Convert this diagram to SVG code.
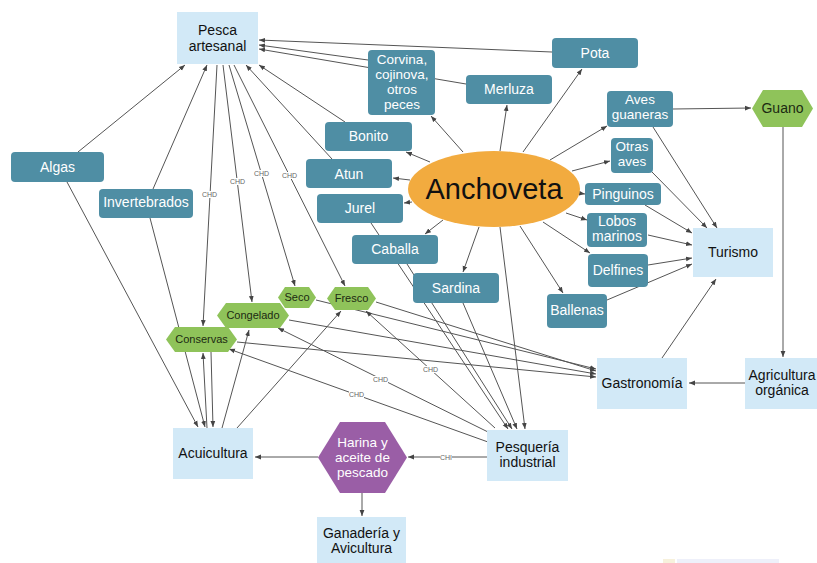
<svg xmlns="http://www.w3.org/2000/svg" width="817" height="563" viewBox="0 0 817 563">
<style>
text{font-family:"Liberation Sans",Arial,Helvetica,sans-serif;text-anchor:middle}
.lb{fill:#d2e9f7}
.tl{fill:#4f8ea4}
.gr{fill:#8fc35a}
.tw{fill:#ffffff;font-size:14px}
.tb{fill:#111111;font-size:14px}
.tg{fill:#1c2a12;font-size:11px}
.e path{fill:none;stroke:#555;stroke-width:1;marker-end:url(#a)}
.lab rect{fill:#ffffff}
.lab text{fill:#666;font-size:7px}
</style>
<defs>
<marker id="a" viewBox="0 0 10 10" refX="10" refY="5" markerWidth="6" markerHeight="6" orient="auto" markerUnits="userSpaceOnUse"><path d="M0,1 L10,5 L0,9 z" fill="#444"/></marker>
</defs>
<rect width="817" height="563" fill="#ffffff"/>
<g id="connectors" class="e">
<path d="M552,52 L259,40"/>
<path d="M368,60 L259,45"/>
<path d="M466,84 L259,49"/>
<path d="M345,122 L259,65"/>
<path d="M332,159 L246,65"/>
<path d="M78,152 L185,65"/>
<path d="M153,189 L207,65"/>
<path d="M217,65 L203,326"/>
<path d="M223,65 L252,302"/>
<path d="M229,65 L295,286"/>
<path d="M234,65 L345,286"/>
<path d="M316,300 L596,369"/>
<path d="M376,302 L596,371"/>
<path d="M289,320 L596,374"/>
<path d="M237,342 L596,377"/>
<path d="M495,428 L366,311"/>
<path d="M488,432 L278,328"/>
<path d="M488,442 L229,349"/>
<path d="M487,457 L408,457"/>
<path d="M463,152 L431,116"/>
<path d="M500,151 L507,105"/>
<path d="M523,152 L582,69"/>
<path d="M550,160 L607,126"/>
<path d="M572,171 L610,161"/>
<path d="M577,193 L585,194"/>
<path d="M566,213 L587,220"/>
<path d="M543,222 L590,253"/>
<path d="M520,226 L563,293"/>
<path d="M479,227 L463,272"/>
<path d="M443,220 L425,234"/>
<path d="M412,202 L404,203"/>
<path d="M410,180 L393,178"/>
<path d="M430,162 L406,152"/>
<path d="M500,227 L525,429"/>
<path d="M371,223 L508,429"/>
<path d="M407,264 L512,429"/>
<path d="M463,303 L517,429"/>
<path d="M653,127 L717,228"/>
<path d="M652,172 L707,228"/>
<path d="M645,205 L692,233"/>
<path d="M648,235 L692,245"/>
<path d="M648,265 L692,258"/>
<path d="M607,300 L692,264"/>
<path d="M662,358 L716,279"/>
<path d="M673,109 L751,108"/>
<path d="M783,127 L783,357"/>
<path d="M745,383 L689,383"/>
<path d="M318,457 L255,457"/>
<path d="M362,493 L362,516"/>
<path d="M67,182 L198,427"/>
<path d="M150,218 L205,427"/>
<path d="M211,352 L213,427"/>
<path d="M207,428 L203,353"/>
<path d="M222,428 L249,330"/>
<path d="M237,428 L341,311"/>
</g>
<g id="edge-labels" class="lab">
<rect x="202" y="191" width="15" height="7"/><text x="209.5" y="197">CHD</text>
<rect x="230" y="178" width="15" height="7"/><text x="237.5" y="184">CHD</text>
<rect x="254" y="170" width="15" height="7"/><text x="261.5" y="176">CHD</text>
<rect x="282" y="172" width="15" height="7"/><text x="289.5" y="178">CHD</text>
<rect x="423" y="366" width="15" height="7"/><text x="430.5" y="372">CHD</text>
<rect x="373" y="376" width="15" height="7"/><text x="380.5" y="382">CHD</text>
<rect x="349" y="391" width="15" height="7"/><text x="356.5" y="397">CHD</text>
<rect x="440" y="454" width="12" height="7"/><text x="446" y="460">CHI</text>
</g>
<g id="pesca-artesanal"><rect class="lb" x="177" y="12" width="81" height="52"/><text class="tb" x="217.5" y="35">Pesca</text><text class="tb" x="217.5" y="51">artesanal</text></g>
<g id="turismo"><rect class="lb" x="693" y="228" width="80" height="49"/><text class="tb" x="733" y="257">Turismo</text></g>
<g id="gastronomia"><rect class="lb" x="597" y="358" width="90" height="51"/><text class="tb" x="642" y="388">Gastronomía</text></g>
<g id="agricultura"><rect class="lb" x="745" y="358" width="80" height="51"/><text class="tb" x="782" y="380">Agricultura</text><text class="tb" x="782" y="395">orgánica</text></g>
<g id="pesqueria"><rect class="lb" x="487" y="430" width="81" height="51"/><text class="tb" x="527.5" y="452">Pesquería</text><text class="tb" x="527.5" y="467">industrial</text></g>
<g id="acuicultura"><rect class="lb" x="173" y="428" width="80" height="51"/><text class="tb" x="213" y="458">Acuicultura</text></g>
<g id="ganaderia"><rect class="lb" x="317" y="517" width="89" height="50"/><text class="tb" x="361.5" y="538">Ganadería y</text><text class="tb" x="361.5" y="553">Avicultura</text></g>
<g id="algas"><rect class="tl" x="11" y="152" width="93" height="30" rx="4"/><text class="tw" x="57.5" y="172">Algas</text></g>
<g id="invertebrados"><rect class="tl" x="99" y="189" width="94" height="29" rx="4"/><text class="tw" x="146" y="207">Invertebrados</text></g>
<g id="bonito"><rect class="tl" x="325" y="122" width="87" height="29" rx="4"/><text class="tw" x="368.5" y="141">Bonito</text></g>
<g id="atun"><rect class="tl" x="306" y="159" width="86" height="29" rx="4"/><text class="tw" x="349" y="179">Atun</text></g>
<g id="jurel"><rect class="tl" x="317" y="194" width="86" height="29" rx="4"/><text class="tw" x="360" y="213">Jurel</text></g>
<g id="caballa"><rect class="tl" x="352" y="235" width="86" height="29" rx="4"/><text class="tw" x="395" y="254">Caballa</text></g>
<g id="sardina"><rect class="tl" x="413" y="273" width="86" height="30" rx="4"/><text class="tw" x="456" y="293">Sardina</text></g>
<g id="corvina"><rect class="tl" x="368" y="50" width="67" height="65" rx="4"/><text class="tw" x="402" y="64" style="font-size:13.5px">Corvina,</text><text class="tw" x="402" y="79" style="font-size:13.5px">cojinova,</text><text class="tw" x="402" y="94" style="font-size:13.5px">otros</text><text class="tw" x="402" y="109" style="font-size:13.5px">peces</text></g>
<g id="merluza"><rect class="tl" x="466" y="75" width="86" height="29" rx="4"/><text class="tw" x="509" y="94">Merluza</text></g>
<g id="pota"><rect class="tl" x="552" y="38" width="86" height="30" rx="4"/><text class="tw" x="595" y="58">Pota</text></g>
<g id="aves-guaneras"><rect class="tl" x="607" y="91" width="66" height="36" rx="4"/><text class="tw" x="640" y="104" style="font-size:13.5px">Aves</text><text class="tw" x="640" y="119" style="font-size:13.5px">guaneras</text></g>
<g id="otras-aves"><rect class="tl" x="611" y="138" width="42" height="35" rx="4"/><text class="tw" x="632" y="151" style="font-size:13.5px">Otras</text><text class="tw" x="632" y="166" style="font-size:13.5px">aves</text></g>
<g id="pinguinos"><rect class="tl" x="585" y="183" width="76" height="22" rx="4"/><text class="tw" x="623" y="199">Pinguinos</text></g>
<g id="lobos-marinos"><rect class="tl" x="587" y="213" width="60" height="34" rx="4"/><text class="tw" x="617" y="226">Lobos</text><text class="tw" x="617" y="241">marinos</text></g>
<g id="delfines"><rect class="tl" x="588" y="254" width="60" height="33" rx="4"/><text class="tw" x="618" y="275">Delfines</text></g>
<g id="ballenas"><rect class="tl" x="547" y="294" width="60" height="34" rx="4"/><text class="tw" x="577" y="315">Ballenas</text></g>
<g id="anchoveta"><ellipse cx="494" cy="189" rx="86" ry="38" fill="#f2ab3f"/><text x="494" y="199" style="font-size:29px;fill:#111">Anchoveta</text></g>
<g id="guano"><polygon class="gr" points="752,108.5 763,90 802,90 813,108.5 802,127 763,127"/><text class="tg" x="782.5" y="113" style="font-size:14px">Guano</text></g>
<g id="seco"><polygon class="gr" points="278,297.5 285,287 309,287 316,297.5 309,308 285,308"/><text class="tg" x="297" y="301">Seco</text></g>
<g id="fresco"><polygon class="gr" points="327,298.5 335,287 368,287 376,298.5 368,310 335,310"/><text class="tg" x="351.5" y="302">Fresco</text></g>
<g id="congelado"><polygon class="gr" points="217,315.5 226,303 280,303 289,315.5 280,328 226,328"/><text class="tg" x="253" y="319">Congelado</text></g>
<g id="conservas"><polygon class="gr" points="166,339.5 175,327 228,327 237,339.5 228,352 175,352"/><text class="tg" x="201.5" y="343">Conservas</text></g>
<g id="harina"><polygon points="318,457.5 340,422 385,422 407,457.5 385,493 340,493" fill="#9a5ea6"/><text class="tw" x="362.5" y="447" style="font-size:13.5px">Harina y</text><text class="tw" x="362.5" y="462" style="font-size:13.5px">aceite de</text><text class="tw" x="362.5" y="477" style="font-size:13.5px">pescado</text></g>
<rect x="663" y="559" width="12" height="4" fill="#f7f1dc"/>
<rect x="677" y="559" width="102" height="4" fill="#eef0fa"/>
</svg>
